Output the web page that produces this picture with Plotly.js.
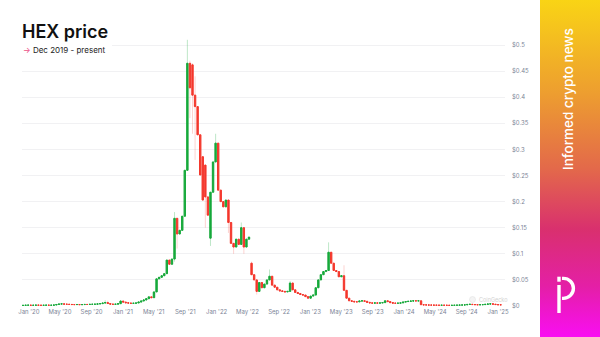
<!DOCTYPE html>
<html>
<head>
<meta charset="utf-8">
<script src="https://cdn.plot.ly/plotly-3.0.1.min.js"></script>
<style>
  html, body { margin: 0; padding: 0; background: #fff; }
  #chart { width: 600px; height: 337px; }
</style>
</head>
<body>
<div id="chart"></div>
<script>
// ---------------- DATA ----------------
// 10-day candles starting 2019-12-09
const candleStart = '2019-12-09';
const candleDays = 10;

const closes = [
  0.0012,0.0015,0.0016,0.0013,0.0014,0.0017,0.0015,0.0013,0.0014,0.0016,0.0014,0.0015,0.0019,
  0.0029,0.0038,0.0041,0.0035,0.0033,0.0030,0.0028,0.0027,0.0029,0.0026,0.0028,0.0030,0.0029,0.0032,0.0033,0.0035,
  0.0040,0.0046,0.0056,0.0066,0.0048,0.0036,0.0032,0.0035,0.0045,0.0095,0.0075,0.0062,0.0056,0.0051,0.0053,0.0058,0.0075,0.0096,0.0115,0.0140,0.0175,0.0160,
  0.027,0.052,0.055,0.058,0.062,0.088,0.080,0.090,0.168,0.138,0.145,0.172,0.260,0.465,
  0.418,0.404,0.382,0.328,0.251,0.203,0.209,0.174,0.218,0.276,0.312,
  0.222,0.200,0.190,0.203,0.160,0.120,0.113,0.128,0.118,0.150,0.113,0.128,0.132,
  0.060,0.050,0.028,0.045,0.035,0.042,0.050,0.057,0.040,0.036,0.031,0.029,0.028,0.027,0.028,0.044,0.031,0.026,0.024,0.022,0.021,0.018,0.015,
  0.019,0.021,0.035,0.050,0.060,0.066,0.068,0.103,0.082,0.068,0.066,0.056,0.058,0.030,0.015,0.010,
  0.009,0.008,0.008,0.0095,0.010,0.009,0.007,0.006,0.0055,0.006,0.0055,0.006,0.0065,0.010,0.0085,0.0065,0.0055,0.0052,0.0055,0.006,0.0075,0.0085,0.009,0.0095,0.010,0.0098,0.010,
  0.0025,0.0022,0.0020,0.0018,0.0017,0.0016,0.0015,0.0014,0.0015,0.0014,0.0013,0.0012,0.0013,0.0014,0.0016,0.0018,0.0020,0.0022,0.0030,0.0033,0.0028,0.0026,0.0024,0.0025,0.0027,0.0032,0.0038,0.0042,0.0035,0.0028,0.0024,0.0023
];
const firstOpen = 0.0011;
// candles that opened away from the previous close
const gapIdx  = [66, 70, 71, 73, 89];
const gapOpen = [0.462, 0.286, 0.270, 0.130, 0.082];
// visible wicks
const wickIdx  = [32, 33, 38, 59, 60, 64, 65, 66, 67, 71, 73, 75, 80, 82, 85, 86, 89, 91, 96, 104, 119, 125];
const wickHigh = [0.011, 0.010, 0.011, 0.180, null, 0.510, 0.470, 0.465, 0.440, null, null, 0.330, null, null, 0.160, null, 0.085, null, 0.070, 0.048, 0.122, 0.078];
const wickLow  = [null, null, null, 0.085, 0.110, null, 0.360, 0.330, 0.280, 0.150, 0.115, null, 0.140, 0.100, null, 0.100, null, 0.022, null, null, null, null];

const yTicks = [0, 0.05, 0.1, 0.15, 0.2, 0.25, 0.3, 0.35, 0.4, 0.45, 0.5];
const yTickText = ['$0', '$0.05', '$0.1', '$0.15', '$0.2', '$0.25', '$0.3', '$0.35', '$0.4', '$0.45', '$0.5'];
const xTickDates = ['2020-01-01','2020-05-01','2020-09-01','2021-01-01','2021-05-01','2021-09-01','2022-01-01','2022-05-01','2022-09-01','2023-01-01','2023-05-01','2023-09-01','2024-01-01','2024-05-01','2024-09-01','2025-01-01'];
const xTickText = ["Jan '20","May '20","Sep '20","Jan '21","May '21","Sep '21","Jan '22","May '22","Sep '22","Jan '23","May '23","Sep '23","Jan '24","May '24","Sep '24","Jan '25"];

// ---------------- BUILD ----------------
const t0 = Date.parse(candleStart + 'T00:00:00Z');
const dates = closes.map((_, i) => new Date(t0 + i * candleDays * 86400000).toISOString().slice(0, 10));
const opens = closes.map((c, i) => i === 0 ? firstOpen : closes[i - 1]);
gapIdx.forEach((k, j) => { opens[k] = gapOpen[j]; });
const bodyHi = closes.map((c, i) => Math.max(c, opens[i]));
const bodyLo = closes.map((c, i) => Math.min(c, opens[i]));
const highs = bodyHi.slice();
const lows = bodyLo.slice();
wickIdx.forEach((k, j) => {
  if (wickHigh[j] !== null) highs[k] = wickHigh[j];
  if (wickLow[j] !== null) lows[k] = wickLow[j];
});

const GREEN = '#17a93b';
const RED = '#f4372c';

const wickTrace = {
  type: 'candlestick', x: dates, open: opens, close: closes, high: highs, low: lows,
  increasing: { line: { color: 'rgba(23,169,59,0.28)', width: 1 }, fillcolor: 'rgba(0,0,0,0)' },
  decreasing: { line: { color: 'rgba(244,55,44,0.22)', width: 1 }, fillcolor: 'rgba(0,0,0,0)' },
  hoverinfo: 'skip', showlegend: false
};
const bodyTrace = {
  type: 'candlestick', x: dates, open: opens, close: closes, high: bodyHi, low: bodyLo,
  increasing: { line: { color: GREEN, width: 1 }, fillcolor: GREEN },
  decreasing: { line: { color: RED, width: 1 }, fillcolor: RED },
  showlegend: false
};

// pixel -> paper helpers (plot area: x 22..505, y 35..307)
const L = 22, R = 505, T = 35, B = 307;
const PX = x => (x - L) / (R - L);
const PY = y => (B - y) / (B - T);

const gradSvg = '<svg xmlns="http://www.w3.org/2000/svg" width="60" height="337" viewBox="0 0 60 337" preserveAspectRatio="none">' +
  '<defs><linearGradient id="g" x1="0" y1="0" x2="0" y2="1">' +
  '<stop offset="0" stop-color="#f9d415"/>' +
  '<stop offset="0.28" stop-color="#ed9d30"/>' +
  '<stop offset="0.5" stop-color="#e3694a"/>' +
  '<stop offset="0.68" stop-color="#d9306e"/>' +
  '<stop offset="0.85" stop-color="#e41fa6"/>' +
  '<stop offset="1" stop-color="#f90ef2"/>' +
  '</linearGradient></defs><rect width="60" height="337" fill="url(#g)"/></svg>';

// P logo bowl path (cubic approximation of semicircle)
const cx = 563.4, r = 10, cyTop = 278.35, cyBot = 298.35, cyMid = 288.35, k = 0.5523 * r;
const pt = (x, y) => PX(x).toFixed(5) + ',' + PY(y).toFixed(5);
const bowlPath = 'M' + pt(562, cyTop) + ' L' + pt(cx, cyTop) +
  ' C' + pt(cx + k, cyTop) + ' ' + pt(cx + r, cyMid - k) + ' ' + pt(cx + r, cyMid) +
  ' C' + pt(cx + r, cyMid + k) + ' ' + pt(cx + k, cyBot) + ' ' + pt(cx, cyBot) +
  ' L' + pt(562, cyBot);

const layout = {
  width: 600, height: 337,
  margin: { l: L, r: 600 - R, t: T, b: 337 - B, pad: 0 },
  paper_bgcolor: '#ffffff', plot_bgcolor: '#ffffff',
  showlegend: false,
  font: { family: 'Inter, "Noto Sans", sans-serif' },
  title: {
    text: 'HEX price',
    font: { family: 'Inter, sans-serif', size: 18, color: '#111111', weight: 600 },
    xref: 'container', yref: 'container', x: 22 / 600, xanchor: 'left', y: 1 - 32 / 337, yanchor: 'middle'
  },
  xaxis: {
    type: 'date', range: ['2019-12-05', '2025-01-28'],
    tickvals: xTickDates, ticktext: xTickText,
    tickfont: { size: 6, color: '#7d8597' },
    showgrid: false, zeroline: false, showline: false, ticks: '',
    rangeslider: { visible: false }, fixedrange: true, automargin: false
  },
  yaxis: {
    side: 'right', range: [-0.0019, 0.5192],
    tickvals: yTicks, ticktext: yTickText,
    tickfont: { size: 6, color: '#7d8597' },
    showgrid: true, gridcolor: '#f1f1f3', gridwidth: 1,
    zeroline: false, showline: false, ticks: '', ticklabelstandoff: 6,
    fixedrange: true, automargin: false
  },
  boxgap: 0.25,
  images: [{
    source: 'data:image/svg+xml;charset=utf-8,' + encodeURIComponent(gradSvg),
    xref: 'paper', yref: 'paper', x: PX(540), y: PY(0),
    sizex: 60 / (R - L), sizey: 337 / (B - T),
    xanchor: 'left', yanchor: 'top', sizing: 'stretch', layer: 'above'
  }],
  shapes: [
    // white box behind the heading
    { type: 'rect', xref: 'paper', yref: 'paper', x0: PX(22), x1: PX(112), y0: PY(56), y1: PY(36),
      fillcolor: '#ffffff', line: { width: 0 }, layer: 'above' },
    // CoinGecko watermark icon
    { type: 'circle', xref: 'paper', yref: 'paper', x0: PX(469.5), x1: PX(475.5), y0: PY(302.5), y1: PY(296.5),
      fillcolor: '#f4f4f4', line: { color: '#e2e2e2', width: 0.6 }, layer: 'above' },
    // logo: dot, stem, bowl
    { type: 'rect', xref: 'paper', yref: 'paper', x0: PX(557.3), x1: PX(560.7), y0: PY(281.7), y1: PY(276.7),
      fillcolor: '#ffffff', line: { width: 0 }, layer: 'above' },
    { type: 'rect', xref: 'paper', yref: 'paper', x0: PX(557.3), x1: PX(560.7), y0: PY(313), y1: PY(285),
      fillcolor: '#ffffff', line: { width: 0 }, layer: 'above' },
    { type: 'path', xref: 'paper', yref: 'paper', path: bowlPath,
      line: { color: '#ffffff', width: 3.4 }, layer: 'above' }
  ],
  annotations: [
    { xref: 'paper', yref: 'paper', x: PX(21), y: PY(49.5), xanchor: 'left', yanchor: 'middle',
      text: '<span style="color:#ec4f86">→</span> Dec 2019 - present', showarrow: false,
      font: { size: 8, color: '#222222' } },
    { xref: 'paper', yref: 'paper', x: PX(477), y: PY(299.5), xanchor: 'left', yanchor: 'middle',
      text: 'CoinGecko', showarrow: false, font: { size: 5.5, color: '#d3d3d3' } },
    { xref: 'paper', yref: 'paper', x: PX(568), y: PY(99), xanchor: 'center', yanchor: 'middle',
      text: 'Informed crypto news', textangle: -90, showarrow: false,
      font: { size: 13.5, color: '#ffffff', weight: 500 } }
  ]
};

Plotly.newPlot('chart', [wickTrace, bodyTrace], layout, { displayModeBar: false, staticPlot: true });
</script>
</body>
</html>
